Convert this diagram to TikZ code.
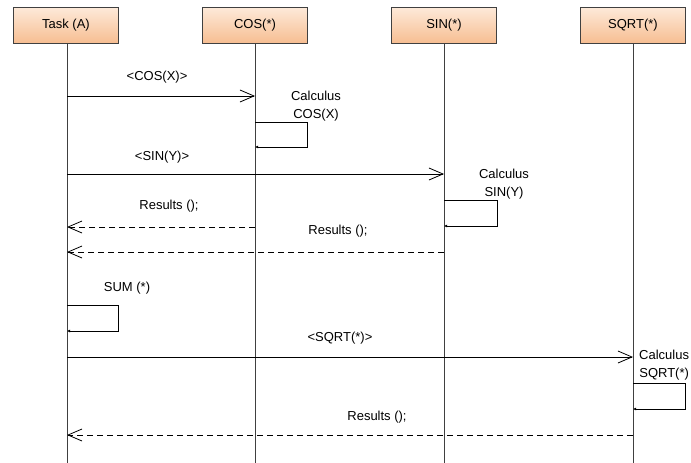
\documentclass[tikz,border=0pt]{standalone}
\usepackage{fontspec}
\setmainfont{Liberation Sans}
\usetikzlibrary{arrows.meta}
\definecolor{peachtop}{RGB}{253,234,218}
\definecolor{peachbot}{RGB}{247,190,146}
\definecolor{lineGray}{RGB}{64,64,64}
\tikzset{
  objbox/.style={draw=lineGray, line width=0.8, top color=peachtop, bottom color=peachbot,
    minimum width=105, minimum height=36, inner sep=0pt, font=\fontsize{13}{15}\selectfont},
  lifeline/.style={draw=lineGray, line width=0.9},
  msg/.style={-{Straight Barb[length=14,width=12]}, line width=0.8},
  reply/.style={msg, dash pattern=on 6 off 4},
  selfcall/.style={-{Latex[length=3,width=3]}, line width=0.8},
  lbl/.style={inner sep=0.75pt, align=center, font=\fontsize{13}{18}\selectfont}
}
\begin{document}
\begin{tikzpicture}[x=1pt,y=1pt,yscale=-1,xscale=1]
\useasboundingbox (0,0) rectangle (691,463);

% Objects
\node[objbox] (taskA) at (66,25) {Task (A)};
\node[objbox] (cosO) at (255,25) {COS(*)};
\node[objbox] (sinO) at (444,25) {SIN(*)};
\node[objbox] (sqrtO) at (633,25) {SQRT(*)};

% Lifeline ends
\coordinate (taskEnd) at (67,463);
\coordinate (cosEnd) at (255,463);
\coordinate (sinEnd) at (444,463);
\coordinate (sqrtEnd) at (633,463);
\draw[lifeline] (taskA.south -| taskEnd) -- (taskEnd);
\draw[lifeline] (cosO.south) -- (cosEnd);
\draw[lifeline] (sinO.south) -- (sinEnd);
\draw[lifeline] (sqrtO.south) -- (sqrtEnd);

% Message points
\coordinate (m1s) at (67,96);   \coordinate (m1e) at (255,96);
\coordinate (m2s) at (67,174);  \coordinate (m2e) at (444,174);
\coordinate (r1s) at (255,227); \coordinate (r1e) at (67,227);
\coordinate (r2s) at (444,252); \coordinate (r2e) at (67,252);
\coordinate (m3s) at (67,357);  \coordinate (m3e) at (633,357);
\coordinate (r3s) at (633,435); \coordinate (r3e) at (67,435);

% Self calls
\coordinate (c1s) at (255,122); \coordinate (c1e) at (255,147);
\coordinate (c2s) at (444,200); \coordinate (c2e) at (444,226);
\coordinate (c3s) at (67,305);  \coordinate (c3e) at (67,331);
\coordinate (c4s) at (633,383); \coordinate (c4e) at (633,409);

\draw[msg] (m1s) -- (m1e);
\draw[msg] (m2s) -- (m2e);
\draw[reply] (r1s) -- (r1e);
\draw[reply] (r2s) -- (r2e);
\draw[msg] (m3s) -- (m3e);
\draw[reply] (r3s) -- (r3e);

\draw[selfcall] (c1s) -| (307,147) -- (c1e);
\draw[selfcall] (c2s) -| (497,226) -- (c2e);
\draw[selfcall] (c3s) -| (118,331) -- (c3e);
\draw[selfcall] (c4s) -| (685,409) -- (c4e);

% Text Node
\node[lbl] (lCos) at (157,77) {<COS(X)>};
\node[lbl] (lCalcCos) at (316,106) {Calculus\\COS(X)};
\node[lbl] (lSin) at (162,157) {<SIN(Y)>};
\node[lbl] (lCalcSin) at (504,184) {Calculus\\SIN(Y)};
\node[lbl] (lRes1) at (169,206) {Results ();};
\node[lbl] (lRes2) at (338,231) {Results ();};
\node[lbl] (lSum) at (127,288) {SUM (*)};
\node[lbl] (lSqrt) at (340,338) {<SQRT(*)>};
\node[lbl, anchor=east] (lCalcSqrt) at (690,365) {Calculus\\SQRT(*)};
\node[lbl] (lRes3) at (377,417) {Results ();};

\end{tikzpicture}
\end{document}
